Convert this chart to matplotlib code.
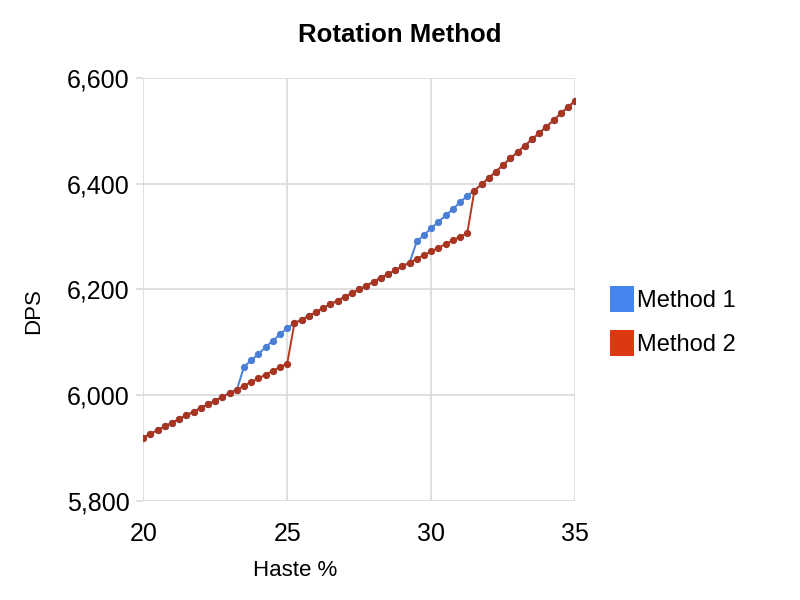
import numpy as np
import matplotlib.pyplot as plt
from matplotlib.patches import Patch
from matplotlib.ticker import FuncFormatter

plt.rcParams['font.family'] = ['Liberation Sans', 'DejaVu Sans']

# Haste % (x) and DPS values for both methods
haste = [20.0 + 0.25 * k for k in range(61)]

method2 = [5920, 5927, 5934, 5941, 5948, 5955, 5962, 5969, 5976, 5983,
           5990, 5997, 6004, 6010, 6018, 6025, 6032, 6039, 6046, 6053,
           6060, 6136, 6143, 6150, 6157, 6165, 6172, 6179, 6186, 6193,
           6200, 6207, 6215, 6222, 6229, 6236, 6244, 6251, 6258, 6265,
           6272, 6279, 6286, 6293, 6300, 6306, 6387, 6399, 6411, 6423,
           6436, 6448, 6460, 6472, 6484, 6496, 6508, 6520, 6533, 6545,
           6557]

method1 = [5920, 5927, 5934, 5941, 5948, 5955, 5962, 5969, 5976, 5983,
           5990, 5997, 6004, 6010, 6054, 6066, 6078, 6091, 6103, 6115,
           6127, 6136, 6143, 6150, 6157, 6165, 6172, 6179, 6186, 6193,
           6200, 6207, 6215, 6222, 6229, 6236, 6244, 6251, 6291, 6303,
           6316, 6328, 6340, 6352, 6365, 6377, 6387, 6399, 6411, 6423,
           6436, 6448, 6460, 6472, 6484, 6496, 6508, 6520, 6533, 6545,
           6557]

series_names = ["Method 1", "Method 2"]
x_ticks = [20, 25, 30, 35]
y_ticks = [5800, 6000, 6200, 6400, 6600]

blue_line = "#4a7fd6"
red_line = "#b8391f"
blue_key = "#4684ee"
red_key = "#dc3912"
grid_c = "#d9d9d9"

fig = plt.figure(figsize=(8, 6), dpi=100)
ax = fig.add_axes([0.179, 0.165, 0.54, 0.705])

ax.plot(haste, method1, color=blue_line, lw=1.4, marker='o', ms=4.2,
        mec=blue_line, mfc=blue_line, zorder=3)
ax.plot(haste, method2, color=red_line, lw=1.4, marker='o', ms=4.2,
        mec="#a8351f", mfc="#a8351f", zorder=4)

ax.set_xlim(20, 35)
ax.set_ylim(5800, 6600)
ax.set_xticks(x_ticks)
ax.set_yticks(y_ticks)
ax.yaxis.set_major_formatter(FuncFormatter(lambda v, p: f"{int(v):,}"))

for s in ax.spines.values():
    s.set_visible(False)
ax.grid(True, color=grid_c, lw=1.2, zorder=0)
ax.tick_params(axis='both', color=grid_c, length=5, width=1.2,
               labelsize=18, pad=5)
ax.tick_params(axis='x', length=0, pad=15)

fig.text(0.5, 1 - 35 / 600, "Rotation Method", fontsize=18.5,
         fontweight='bold', ha='center', va='center')
ax.set_xlabel("Haste %", fontsize=16)
ax.xaxis.set_label_coords(0.352, -0.14)
ax.set_ylabel("DPS", fontsize=16)
ax.yaxis.set_label_coords(-0.23, 0.45)

handles = [Patch(facecolor=blue_key, edgecolor='none'),
           Patch(facecolor=red_key, edgecolor='none')]
fig.legend(handles, series_names, loc='center left',
           bbox_to_anchor=(0.736, 0.465), frameon=False, fontsize=17,
           handlelength=1.0, handleheight=1.3, handletextpad=0.15,
           labelspacing=0.75)

fig.savefig("out.png", dpi=100)
